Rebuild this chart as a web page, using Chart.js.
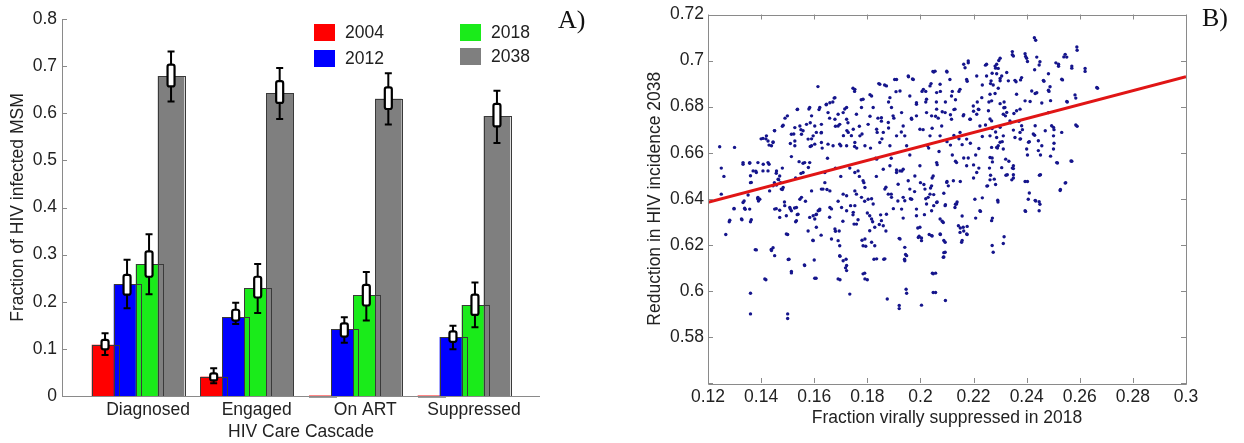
<!DOCTYPE html>
<html lang="en">
<head>
<meta charset="UTF-8">
<title>HIV care cascade</title>
<script src="https://cdn.jsdelivr.net/npm/chart.js@4"></script>
<style>
  body { margin: 0; background: #fff; }
  #panelA { position: absolute; left: 0; top: 0; width: 620px; height: 443px; }
  #panelB { position: absolute; left: 620px; top: 0; width: 624px; height: 443px; }
</style>
</head>
<body>
<div id="panelA"><canvas id="cascade"></canvas></div>
<div id="panelB"><canvas id="scatter"></canvas></div>
<script>
// ---- care cascade (bars + spread of the runs) ----
const stages = ['Diagnosed', 'Engaged', 'On ART', 'Suppressed'];
const years = ['2004', '2012', '2018', '2038'];
const yearColors = ['#ff0000', '#0000ff', '#1aeb1a', '#7f7f7f'];

// mean fraction per year (rows) and stage (columns)
const means = [
    [0.109, 0.041, 0.001, 0.001],
    [0.237, 0.167, 0.142, 0.125],
    [0.280, 0.229, 0.214, 0.193],
    [0.679, 0.643, 0.631, 0.594]
];
const whiskerLow = [
    [0.087, 0.027, null, null],
    [0.186, 0.153, 0.113, 0.099],
    [0.216, 0.176, 0.160, 0.146],
    [0.625, 0.588, 0.576, 0.537]
];
const whiskerHigh = [
    [0.133, 0.059, null, null],
    [0.289, 0.198, 0.167, 0.149],
    [0.343, 0.280, 0.263, 0.241],
    [0.731, 0.696, 0.685, 0.648]
];
const boxLow = [
    [0.099, 0.033, null, null],
    [0.215, 0.160, 0.126, 0.115],
    [0.253, 0.209, 0.192, 0.172],
    [0.657, 0.622, 0.609, 0.572]
];
const boxHigh = [
    [0.119, 0.048, null, null],
    [0.257, 0.183, 0.154, 0.137],
    [0.307, 0.253, 0.236, 0.215],
    [0.703, 0.668, 0.655, 0.620]
];
const cascadeTicks = [0, 0.1, 0.2, 0.3, 0.4, 0.5, 0.6, 0.7, 0.8];

// ---- suppression vs incidence reduction, one point per run ----
const fitX = [0.12, 0.30];
const fitY = [0.6385, 0.6930];
const runPoints = [
  [0.1244,0.6626],[0.125,0.6533],[0.126,0.6497],[0.125,0.642],[0.1267,0.6245],[0.128,0.630],[0.1298,0.6356],[0.130,0.6623],
  [0.1328,0.6309],[0.1332,0.655],[0.1336,0.639],[0.134,0.6354],[0.1357,0.6554],[0.136,0.650],[0.136,0.647],[0.136,0.630],
  [0.136,0.599],[0.136,0.590],[0.1378,0.6179],[0.138,0.652],[0.1387,0.640],[0.139,0.639],[0.140,0.666],[0.1418,0.6048],
  [0.1408,0.655],[0.1418,0.666],[0.143,0.6633],[0.143,0.655],[0.1438,0.618],[0.1445,0.6187],[0.1445,0.6647],[0.145,0.6696],
  [0.1457,0.6511],[0.145,0.647],[0.1458,0.646],[0.1466,0.6483],[0.1473,0.647],[0.148,0.6715],[0.148,0.6533],[0.148,0.644],
  [0.147,0.635],[0.1457,0.6357],[0.1488,0.6386],[0.149,0.675],[0.150,0.6245],[0.150,0.590],[0.150,0.588],[0.1505,0.6137],
  [0.151,0.664],[0.1514,0.6583],[0.1514,0.6084],[0.151,0.6356],[0.1523,0.6681],[0.1526,0.636],[0.153,0.649],[0.153,0.630],
  [0.1536,0.6787],[0.1536,0.6331],[0.1543,0.6561],[0.155,0.670],[0.155,0.651],[0.1558,0.6554],[0.1563,0.6113],[0.1567,0.6389],
  [0.1577,0.626],[0.1578,0.6536],[0.158,0.679],[0.1585,0.6627],[0.1585,0.673],[0.159,0.666],[0.160,0.6134],[0.1607,0.6055],
  [0.1595,0.622],[0.1607,0.6331],[0.1614,0.6887],[0.1618,0.6787],[0.162,0.635],[0.1626,0.6686],[0.1626,0.6242],[0.163,0.662],
  [0.164,0.647],[0.1645,0.6808],[0.1648,0.644],[0.165,0.6576],[0.1658,0.632],[0.1665,0.6356],[0.1658,0.675],[0.167,0.682],
  [0.1675,0.6837],[0.168,0.6715],[0.168,0.6533],[0.168,0.6259],[0.169,0.6389],[0.1694,0.626],[0.1697,0.6048],[0.1697,0.615],
  [0.170,0.6497],[0.170,0.663],[0.1708,0.6302],[0.171,0.6674],[0.1715,0.679],[0.1718,0.610],[0.172,0.6137],[0.1723,0.6696],
  [0.1727,0.673],[0.1734,0.5986],[0.1734,0.6533],[0.1737,0.637],[0.174,0.6674],[0.1746,0.633],[0.1746,0.688],[0.175,0.629],
  [0.1752,0.6866],[0.1752,0.6627],[0.1759,0.642],[0.176,0.662],[0.1765,0.6309],[0.177,0.6497],[0.177,0.6715],[0.1777,0.683],
  [0.178,0.6681],[0.178,0.622],[0.1787,0.647],[0.179,0.6389],[0.179,0.6077],[0.1794,0.6194],[0.180,0.6048],[0.180,0.6338],
  [0.181,0.6852],[0.181,0.6758],[0.1812,0.662],[0.1816,0.640],[0.182,0.630],[0.1825,0.6137],[0.1831,0.6576],[0.1834,0.6497],
  [0.1837,0.6688],[0.184,0.675],[0.1843,0.690],[0.1845,0.6288],[0.185,0.633],[0.1853,0.6737],[0.1855,0.666],[0.1862,0.6137],
  [0.1865,0.6894],[0.187,0.645],[0.187,0.626],[0.1875,0.5965],[0.188,0.682],[0.188,0.6707],[0.189,0.6576],[0.189,0.642],
  [0.1898,0.6357],[0.190,0.675],[0.1903,0.6918],[0.1908,0.6865],[0.191,0.6525],[0.1915,0.639],[0.192,0.5937],[0.192,0.5923],
  [0.192,0.6228],[0.1928,0.669],[0.193,0.652],[0.1935,0.6316],[0.194,0.6137],[0.1944,0.6158],[0.1946,0.6007],[0.1948,0.599],
  [0.1955,0.693],[0.196,0.659],[0.1962,0.640],[0.1966,0.675],[0.197,0.692],[0.1978,0.6431],[0.1985,0.681],[0.199,0.6273],
  [0.1995,0.6237],[0.200,0.647],[0.2004,0.5938],[0.2004,0.623],[0.201,0.670],[0.2015,0.6331],[0.202,0.6866],[0.202,0.640],
  [0.2027,0.663],[0.2033,0.6245],[0.204,0.690],[0.2045,0.6077],[0.2047,0.6953],[0.2048,0.5993],[0.205,0.637],[0.206,0.682],
  [0.2067,0.675],
  [0.2006,0.6866],[0.205,0.695],[0.202,0.682],[0.2075,0.6866],[0.210,0.695],[0.212,0.6866],[0.2132,0.683],[0.2163,0.6984],
  [0.218,0.699],[0.2176,0.691],[0.2145,0.6866],[0.2163,0.6765],[0.2188,0.6745],[0.222,0.6787],[0.2233,0.6894],[0.2245,0.698],
  [0.2264,0.690],[0.227,0.6945],[0.2283,0.6967],[0.230,0.6922],[0.2295,0.700],[0.2315,0.682],[0.2346,0.7025],[0.236,0.6908],
  [0.2377,0.6916],[0.2396,0.7018],[0.2403,0.6996],[0.243,0.696],[0.2434,0.7088],[0.2447,0.6981],[0.2465,0.691],[0.2484,0.6866],
  [0.249,0.6826],[0.251,0.699],[0.252,0.6975],[0.2535,0.6916],[0.254,0.7016],[0.2553,0.682],[0.257,0.6967],[0.2585,0.6837],
  [0.259,0.7045],[0.262,0.6953],[0.2667,0.688],[0.259,0.6715],[0.257,0.6563],[0.2547,0.647],[0.2527,0.644],[0.2516,0.6555],
  [0.2503,0.6641],[0.2503,0.670],[0.249,0.6585],[0.2452,0.659],[0.2452,0.6504],[0.245,0.6376],[0.2434,0.639],[0.241,0.6425],
  [0.2396,0.6345],[0.2403,0.6475],[0.243,0.6676],[0.241,0.6648],[0.2403,0.659],[0.2377,0.666],[0.2384,0.670],[0.2371,0.6736],
  [0.2352,0.677],[0.2346,0.6533],[0.235,0.649],[0.2333,0.6563],[0.2327,0.6504],[0.2315,0.6235],[0.2292,0.6386],[0.2283,0.6462],
  [0.227,0.6197],[0.2271,0.6316],[0.2308,0.6648],[0.229,0.662],[0.227,0.6577],[0.226,0.6533],[0.225,0.6455],[0.2233,0.6404],
  [0.2226,0.6345],[0.2208,0.6316],[0.220,0.6547],[0.220,0.649],[0.222,0.6533],[0.222,0.6618],[0.2233,0.667],[0.2245,0.672],
  [0.2208,0.659],[0.2188,0.6641],[0.218,0.6577],[0.2163,0.6577],[0.2157,0.6635],[0.2145,0.666],[0.2126,0.6675],[0.2113,0.6633],
  [0.210,0.6648],[0.212,0.659],[0.2132,0.6563],[0.215,0.6475],[0.2132,0.6376],[0.2138,0.6386],[0.2157,0.6325],[0.215,0.6273],
  [0.2163,0.626],[0.2157,0.6219],[0.2176,0.6245],[0.2176,0.628],[0.210,0.6475],[0.2088,0.6424],[0.2094,0.6374],[0.2082,0.6302],
  [0.2088,0.6219],[0.2088,0.6166],[0.2088,0.6147],[0.2075,0.6245],[0.2057,0.6077],[0.2057,0.5993],[0.2094,0.5958],[0.2044,0.6238],
  [0.2063,0.6386],[0.205,0.6418],[0.2038,0.6447],[0.2044,0.649],[0.2013,0.6462],[0.2063,0.6548],[0.207,0.6605],[0.2031,0.662],
  [0.2044,0.6706],[0.2057,0.6758],[0.2082,0.6778],[0.2094,0.682],[0.2113,0.6765],[0.2126,0.6787],[0.220,0.678],[0.2214,0.682],
  [0.2258,0.682],[0.227,0.6705],[0.2283,0.669],[0.2314,0.6795],[0.232,0.676],[0.234,0.673],
  [0.1753,0.6875],[0.1784,0.6832],[0.1778,0.6796],[0.1759,0.6767],[0.1816,0.6846],[0.1822,0.6796],[0.1847,0.6897],[0.1853,0.6752],
  [0.1872,0.6890],[0.1885,0.6839],[0.1891,0.6796],[0.1897,0.6760],[0.1910,0.6918],[0.1923,0.6868],[0.1929,0.6774],[0.1935,0.6716],
  [0.1954,0.6933],[0.1960,0.6846],[0.1967,0.6745],[0.1973,0.6918],[0.1985,0.6817],[0.1998,0.6702],[0.2011,0.6875],[0.2023,0.6832],
  [0.2036,0.6890],[0.2042,0.6760],[0.2055,0.6954],[0.2061,0.6861],[0.2074,0.6897],[0.2080,0.6716],[0.2099,0.6954],[0.2111,0.6918],
  [0.2117,0.6846],[0.2130,0.6789],[0.2149,0.6875],[0.2168,0.6969],[0.2174,0.6918],[0.2180,0.6998],[0.2199,0.6803],[0.2212,0.6933],
  [0.2218,0.6789],[0.2231,0.6839],[0.1747,0.6702],[0.1772,0.6673],[0.1803,0.6723],[0.1835,0.6702],[0.1860,0.6688],[0.1879,0.6731],
  [0.1910,0.6673],[0.1941,0.6673],[0.1985,0.6760],[0.2023,0.6774],[0.2061,0.6789],[0.2093,0.6774],[0.2117,0.6745],[0.2161,0.6760],
  [0.2186,0.6745],[0.2212,0.6767],[0.1753,0.6644],[0.1791,0.6630],[0.1847,0.6644],[0.1885,0.6630],[0.1948,0.6630],[0.2036,0.6673],
  [0.2074,0.6673],[0.2149,0.6688],[0.2174,0.6659],[0.2224,0.6716],
  [0.1753,0.6514],[0.1765,0.6521],[0.1784,0.6478],[0.1791,0.6449],[0.1778,0.6406],[0.1753,0.6434],[0.1753,0.6370],[0.1747,0.6341],
  [0.1759,0.6290],[0.1803,0.6398],[0.1809,0.6326],[0.1816,0.6312],[0.1822,0.6377],[0.1828,0.6276],[0.1809,0.6261],[0.1791,0.6225],
  [0.1784,0.6196],[0.1816,0.6211],[0.1828,0.6196],[0.1835,0.6139],[0.1866,0.6139],[0.1860,0.6283],[0.1853,0.6305],[0.1866,0.6442],
  [0.1879,0.6420],[0.1872,0.6333],[0.1891,0.6406],[0.1910,0.6514],[0.1923,0.6521],[0.1916,0.6463],[0.1935,0.6406],[0.1941,0.6391],
  [0.1929,0.6355],[0.1960,0.6442],[0.1967,0.6398],[0.1954,0.6478],[0.1979,0.6499],[0.1985,0.6355],[0.1985,0.6326],[0.1923,0.6225],
  [0.1941,0.6189],[0.1948,0.6153],[0.1941,0.6131],[0.1998,0.6276],[0.1992,0.6232],[0.2004,0.6218],[0.2017,0.6442],[0.2029,0.6406],
  [0.2036,0.6420],[0.2042,0.6456],[0.2048,0.6499],[0.2042,0.6348],[0.2023,0.6377],[0.2042,0.6240],[0.2074,0.6247],[0.2061,0.6384],
  [0.2093,0.6370],[0.2074,0.6312],[0.2086,0.6297],[0.2099,0.6471],[0.2105,0.6456],[0.2124,0.6478],[0.2136,0.6377],[0.2130,0.6362],
  [0.2143,0.6283],[0.2161,0.6276],[0.2174,0.6247],[0.2149,0.6254],[0.2155,0.6211],[0.2093,0.6211],[0.2093,0.6168],[0.2086,0.6146],
  [0.2048,0.6074],[0.2212,0.6514],[0.2205,0.6398],[0.2224,0.6348],[0.1784,0.6074],[0.1791,0.6052],[0.1835,0.6572],[0.1860,0.6528],
  [0.1885,0.6543],[0.1935,0.6528],[0.1998,0.6543],[0.2061,0.6557],[0.2136,0.6557],[0.2174,0.6543],
  [0.1678,0.6839],[0.1659,0.6817],[0.1646,0.6810],[0.1583,0.6796],[0.1537,0.6789],[0.1499,0.6760],[0.1590,0.6760],[0.1621,0.6796],
  [0.1652,0.6774],[0.1690,0.6767],[0.1709,0.6774],[0.1722,0.6796],[0.1678,0.6745],[0.1696,0.6723],[0.1690,0.6716],[0.1627,0.6723],
  [0.1602,0.6716],[0.1571,0.6723],[0.1546,0.6716],[0.1527,0.6709],[0.1483,0.6719],[0.1451,0.6695],[0.1420,0.6673],[0.1426,0.6651],
  [0.1445,0.6644],[0.1439,0.6630],[0.1407,0.6662],[0.1514,0.6680],[0.1527,0.6651],[0.1527,0.6630],[0.1552,0.6680],[0.1558,0.6695],
  [0.1577,0.6659],[0.1596,0.6673],[0.1608,0.6688],[0.1627,0.6688],[0.1602,0.6637],[0.1590,0.6630],[0.1627,0.6644],[0.1652,0.6637],
  [0.1671,0.6630],[0.1696,0.6637],[0.1722,0.6630],[0.1728,0.6688],[0.1722,0.6745],
  [0.1282,0.6307],[0.1326,0.6312],[0.1298,0.6358],[0.1338,0.6359],[0.1357,0.6355],[0.1363,0.6309],[0.1332,0.6384],[0.1351,0.6416],
  [0.1332,0.6557],[0.1357,0.6557],[0.1363,0.6471],[0.1370,0.6521],[0.1382,0.6514],[0.1388,0.6557],[0.1395,0.6398],[0.1388,0.6406],
  [0.1407,0.6521],[0.1426,0.6557],[0.1426,0.6521],[0.1432,0.6434],[0.1445,0.6456],[0.1451,0.6355],[0.1458,0.6521],[0.1464,0.6485],
  [0.1470,0.6499],[0.1476,0.6442],[0.1483,0.6449],[0.1489,0.6370],[0.1470,0.6319],[0.1495,0.6326],[0.1508,0.6362],[0.1514,0.6348],
  [0.1533,0.6362],[0.1533,0.6305],[0.1539,0.6333],[0.1546,0.6398],[0.1552,0.6406],[0.1558,0.6514],[0.1564,0.6557],[0.1583,0.6557],
  [0.1590,0.6434],[0.1583,0.6319],[0.1596,0.6326],[0.1602,0.6312],[0.1608,0.6333],[0.1615,0.6348],[0.1621,0.6355],[0.1608,0.6276],
  [0.1596,0.6218],[0.1627,0.6442],[0.1633,0.6442],[0.1640,0.6514],[0.1659,0.6434],[0.1659,0.6362],[0.1678,0.6269],[0.1665,0.6225],
  [0.1690,0.6218],[0.1696,0.6196],[0.1703,0.6362],[0.1709,0.6420],[0.1722,0.6413],[0.1722,0.6348],[0.1696,0.6153],[0.1709,0.6131],
  [0.1722,0.6110],[0.1722,0.6088],[0.1690,0.6052],[0.1602,0.6055],[0.1564,0.6110],[0.1514,0.6078],[0.1502,0.6136],[0.1451,0.6153],
  [0.1439,0.6175],[0.1382,0.6178],[0.1414,0.6052],[0.1495,0.6247],
  [0.2429,0.7099],[0.2589,0.7059],[0.2545,0.7027],[0.2551,0.7015],[0.2620,0.6966],[0.2664,0.6883],[0.2582,0.6851],[0.2551,0.6822],
  [0.2585,0.6720],[0.2346,0.7039],[0.2350,0.7020],[0.2394,0.7030],[0.2400,0.7010],[0.2438,0.7015],[0.2450,0.6995],[0.2520,0.6984],
  [0.2570,0.6976],[0.2482,0.6943],[0.2532,0.6919],[0.2463,0.6914],[0.2488,0.6886],[0.2482,0.6871],[0.2419,0.6868],[0.2432,0.6857],
  [0.2438,0.6860],[0.2362,0.6854],[0.2394,0.6825],[0.2413,0.6822],[0.2457,0.6816],[0.2482,0.6774],[0.2494,0.6717],[0.2501,0.6673],
  [0.2432,0.6717],[0.2425,0.6681],[0.2444,0.6652],[0.2407,0.6645],[0.2400,0.6616],[0.2457,0.6630],[0.2356,0.6666],[0.2375,0.6659],
  [0.2375,0.6688],[0.2350,0.6698],[0.2381,0.6717],[0.2362,0.6782],[0.2375,0.6789],[0.2325,0.6775],[0.2337,0.6738],[0.2318,0.6796],
  [0.2312,0.6767],[0.2300,0.6813],[0.2281,0.6857],[0.2293,0.6880],[0.2274,0.6894],[0.2266,0.6912],[0.2300,0.6912],[0.2331,0.6912],
  [0.2356,0.6914],[0.2381,0.6926],[0.2325,0.6948],[0.2293,0.6966],[0.2287,0.6943],[0.2306,0.6933],[0.2300,0.7010],[0.2287,0.6984],
  [0.2281,0.6976],[0.2249,0.6984],[0.2249,0.6933],[0.2262,0.6854],[0.2268,0.6825],[0.2256,0.6782],[0.2262,0.6746],[0.2268,0.6738],
  [0.2300,0.6710],[0.2287,0.6666],[0.2312,0.6673],[0.2300,0.6645],[0.2293,0.6630],[0.2268,0.6623],[0.2287,0.6623],[0.2262,0.6673],
  [0.2312,0.6616],[0.2444,0.6609],[0.2501,0.6616],[0.2470,0.6695],[0.2532,0.6688],[0.2501,0.6710],
  [0.2262,0.6579],[0.2271,0.6560],[0.2321,0.6572],[0.2350,0.6543],[0.2350,0.6531],[0.2306,0.6535],[0.2264,0.6502],[0.2262,0.6482],
  [0.2278,0.6485],[0.2253,0.6456],[0.2322,0.6502],[0.2350,0.6504],[0.2344,0.6482],[0.2394,0.6475],[0.2448,0.6502],[0.2513,0.6557],
  [0.2567,0.6564],[0.2545,0.6468],[0.2526,0.6436],[0.2406,0.6398],[0.2432,0.6393],[0.2447,0.6387],[0.2394,0.6348],[0.2447,0.6348],
  [0.2291,0.6394],[0.2268,0.6305],[0.2312,0.6206],[0.2274,0.6168]
];

Chart.defaults.font.family = '"Liberation Sans", Arial, sans-serif';
Chart.defaults.font.size = 17.5;
Chart.defaults.color = '#222';
Chart.defaults.animation = false;

function fmt(v) {
    return String(Number(v.toFixed(2)));
}

// fills in year order, then outlines, spread markers and axes
const cascadeExtras = {
    id: 'cascadeExtras',
    beforeDatasetsDraw(chart) {
        const ctx = chart.ctx;
        const area = chart.chartArea;
        const ys = chart.scales.y;
        // later years cover the overlap of earlier ones
        years.forEach((yr, i) => {
            chart.getDatasetMeta(i).data.forEach(bar => bar.draw(ctx));
        });
        ctx.save();
        // every bar gets its outline on top of the fills
        ctx.strokeStyle = '#3a3a3a';
        ctx.lineWidth = 1;
        years.forEach((yr, i) => {
            chart.getDatasetMeta(i).data.forEach(bar => {
                const p = bar.getProps(['x', 'y', 'base', 'width'], true);
                ctx.strokeRect(Math.round(p.x - p.width / 2) + 0.5, Math.round(p.y) + 0.5,
                    Math.round(p.width), Math.max(0.5, Math.round(p.base - p.y)));
            });
        });
        // whiskers and white boxes
        years.forEach((yr, i) => {
            chart.getDatasetMeta(i).data.forEach((bar, j) => {
                if (whiskerLow[i][j] == null) return;
                const x = bar.x;
                const wl = ys.getPixelForValue(whiskerLow[i][j]);
                const wh = ys.getPixelForValue(whiskerHigh[i][j]);
                const bl = ys.getPixelForValue(boxLow[i][j]);
                const bh = ys.getPixelForValue(boxHigh[i][j]);
                ctx.strokeStyle = '#000';
                ctx.lineWidth = 2;
                ctx.beginPath();
                ctx.moveTo(x, wh); ctx.lineTo(x, wl);
                ctx.moveTo(x - 3.5, wh); ctx.lineTo(x + 3.5, wh);
                ctx.moveTo(x - 3.5, wl); ctx.lineTo(x + 3.5, wl);
                ctx.stroke();
                ctx.fillStyle = '#fff';
                ctx.beginPath();
                ctx.roundRect(x - 3.5, bh, 7, bl - bh, 2);
                ctx.fill();
                ctx.lineWidth = 2.2;
                ctx.stroke();
            });
        });
        // left and bottom axis with inward ticks
        ctx.strokeStyle = '#8a8a8a';
        ctx.lineWidth = 1;
        ctx.beginPath();
        ctx.moveTo(area.left + 0.5, area.top);
        ctx.lineTo(area.left + 0.5, area.bottom + 0.5);
        ctx.lineTo(area.right, area.bottom + 0.5);
        ys.ticks.forEach(t => {
            const py = Math.round(ys.getPixelForValue(t.value)) + 0.5;
            ctx.moveTo(area.left, py);
            ctx.lineTo(area.left + 5, py);
        });
        ctx.stroke();
        ctx.restore();
        return false;
    },
    afterDraw(chart) {
        const ctx = chart.ctx;
        ctx.save();
        // two-column legend inside the plot
        const spots = [[314, 24], [314, 50], [460, 24], [460, 48]];
        years.forEach((yr, i) => {
            const [sx, sy] = spots[i];
            ctx.fillStyle = yearColors[i];
            ctx.fillRect(sx, sy, 21, 17);
            ctx.fillStyle = '#222';
            ctx.font = '17.5px "Liberation Sans", Arial, sans-serif';
            ctx.textBaseline = 'middle';
            ctx.fillText(yr, sx + 31, sy + 9);
        });
        ctx.font = '26px "Liberation Serif", "Times New Roman", serif';
        ctx.textBaseline = 'alphabetic';
        ctx.fillStyle = '#111';
        ctx.fillText('A)', 558, 28);
        ctx.restore();
    }
};

new Chart(document.getElementById('cascade'), {
    type: 'bar',
    data: {
        datasets: years.map((yr, i) => ({
            label: yr,
            data: means[i].map((v, j) => ({ x: j + 1, y: v })),
            backgroundColor: yearColors[i],
            borderWidth: 0,
            categoryPercentage: 0.81,
            barPercentage: 1.21
        }))
    },
    options: {
        responsive: true,
        maintainAspectRatio: false,
        layout: { padding: { left: 0, right: 80, top: 19, bottom: 0 } },
        plugins: { legend: { display: false }, tooltip: { enabled: false } },
        scales: {
            x: {
                type: 'linear',
                offset: false,
                min: 0.3,
                max: 4.7,
                grid: { display: false, drawTicks: false },
                border: { display: false },
                afterBuildTicks: s => { s.ticks = stages.map((c, i) => ({ value: i + 1 })); },
                afterFit: s => { s.height = 47; },
                ticks: {
                    padding: 4,
                    labelOffset: 10,
                    maxRotation: 0,
                    autoSkip: false,
                    callback: v => stages[v - 1] || ''
                },
                title: { display: true, text: 'HIV Care Cascade', padding: { top: 0, bottom: 0.5 } }
            },
            y: {
                min: 0,
                max: 0.8,
                grid: { display: false, drawTicks: false },
                border: { display: false },
                afterBuildTicks: s => { s.ticks = cascadeTicks.map(v => ({ value: v })); },
                afterFit: s => { s.width = 62; },
                ticks: { padding: 5, callback: v => fmt(v) },
                title: { display: true, text: 'Fraction of HIV infected MSM', padding: { top: 7.5, bottom: 0 } }
            }
        }
    },
    plugins: [cascadeExtras]
});

// box frame with inward ticks on all four sides, plus panel letter
const frameExtras = {
    id: 'frameExtras',
    afterDatasetsDraw(chart) {
        const ctx = chart.ctx;
        const a = chart.chartArea;
        const xs = chart.scales.x;
        const ys = chart.scales.y;
        ctx.save();
        ctx.strokeStyle = '#8a8a8a';
        ctx.lineWidth = 1;
        ctx.beginPath();
        ctx.rect(Math.round(a.left) + 0.5, Math.round(a.top) + 0.5,
            Math.round(a.right - a.left), Math.round(a.bottom - a.top));
        xs.ticks.forEach(t => {
            const px = Math.round(xs.getPixelForValue(t.value)) + 0.5;
            ctx.moveTo(px, a.bottom); ctx.lineTo(px, a.bottom - 5);
            ctx.moveTo(px, a.top); ctx.lineTo(px, a.top + 5);
        });
        ys.ticks.forEach(t => {
            const py = Math.round(ys.getPixelForValue(t.value)) + 0.5;
            ctx.moveTo(a.left, py); ctx.lineTo(a.left + 5, py);
            ctx.moveTo(a.right, py); ctx.lineTo(a.right - 5, py);
        });
        ctx.stroke();
        ctx.restore();
    },
    afterDraw(chart) {
        const ctx = chart.ctx;
        ctx.save();
        ctx.font = '26px "Liberation Serif", "Times New Roman", serif';
        ctx.fillStyle = '#111';
        ctx.fillText('B)', 582, 26);
        ctx.restore();
    }
};

new Chart(document.getElementById('scatter'), {
    type: 'scatter',
    data: {
        datasets: [
            {
                label: 'runs',
                data: runPoints.map(p => ({ x: p[0], y: p[1] })),
                backgroundColor: '#15158c',
                borderWidth: 0,
                pointRadius: 1.7,
                order: 1
            },
            {
                label: 'fit',
                type: 'line',
                data: fitX.map((x, i) => ({ x: x, y: fitY[i] })),
                borderColor: '#e01515',
                borderWidth: 3,
                pointRadius: 0,
                order: 0
            }
        ]
    },
    options: {
        responsive: true,
        maintainAspectRatio: false,
        layout: { padding: { left: 0, right: 58, top: 13, bottom: 0 } },
        plugins: { legend: { display: false }, tooltip: { enabled: false } },
        scales: {
            x: {
                type: 'linear',
                min: 0.12,
                max: 0.3,
                grid: { display: false, drawTicks: false },
                border: { display: false },
                afterFit: s => { s.height = 60; },
                ticks: { stepSize: 0.02, padding: 3.5, maxRotation: 0, callback: v => fmt(v) },
                title: { display: true, text: 'Fraction virally suppressed in 2018', padding: { top: 0, bottom: 14.5 } }
            },
            y: {
                min: 0.56,
                max: 0.72,
                grid: { display: false, drawTicks: false },
                border: { display: false },
                afterFit: s => { s.width = 88; },
                ticks: { stepSize: 0.02, padding: 4, callback: v => (Math.abs(v - 0.56) < 1e-6 ? '' : fmt(v)) },
                title: { display: true, text: 'Reduction in HIV incidence 2038', padding: { top: 24.5, bottom: 0 } }
            }
        }
    },
    plugins: [frameExtras]
});
</script>
</body>
</html>
